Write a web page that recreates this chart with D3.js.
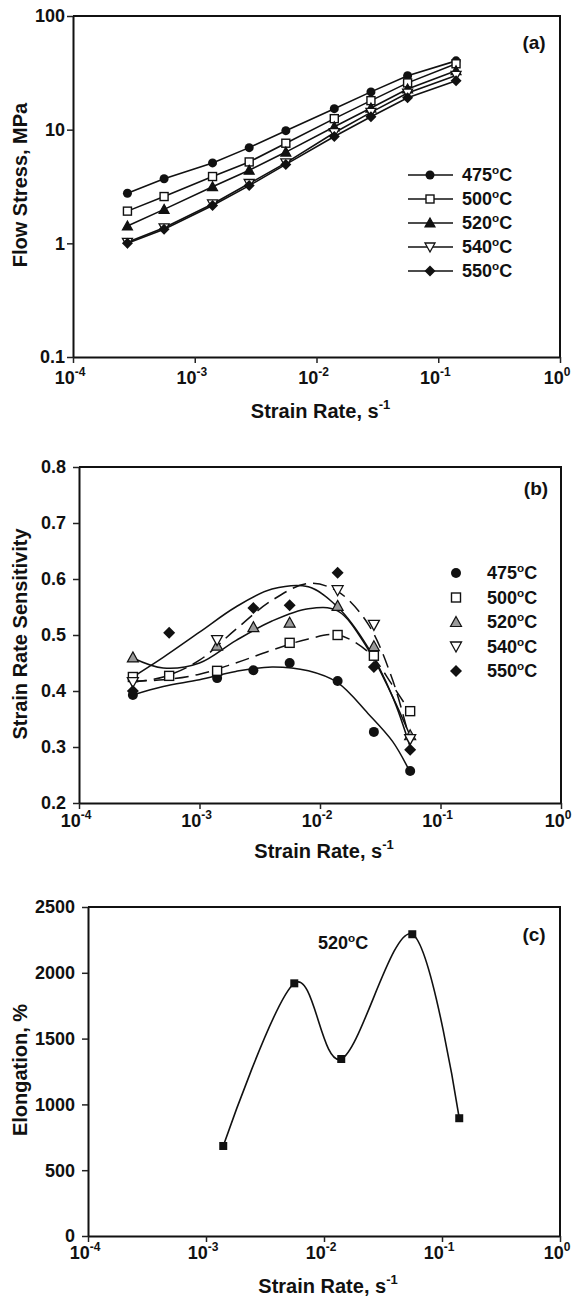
<!DOCTYPE html>
<html><head><meta charset="utf-8">
<script src="https://cdn.jsdelivr.net/npm/d3@7"></script>
<style>
html,body{margin:0;padding:0;background:#fff;}
svg{display:block;}
text{font-family:"Liberation Sans",Arial,sans-serif;font-weight:bold;fill:#111;}
</style></head>
<body>
<svg id="c" width="574" height="1297"></svg>
<script>
// ---------- DATA ----------
// Panel (a): flow stress vs strain rate
const ratesA = [2.8e-4, 5.6e-4, 1.4e-3, 2.8e-3, 5.6e-3, 1.4e-2, 2.8e-2, 5.6e-2, 1.4e-1];
const stress475 = [2.76, 3.7, 5.1, 6.95, 9.8, 15.3, 21.5, 29.8, 40.3];
const stress500 = [1.92, 2.58, 3.87, 5.2, 7.6, 12.5, 18.0, 25.8, 38.0];
const stress520 = [1.42, 1.99, 3.15, 4.4, 6.35, 10.6, 15.5, 22.8, 33.0];
const stress540 = [1.02, 1.37, 2.22, 3.36, 5.1, 9.4, 14.2, 21.0, 30.0];
const stress550 = [1.0, 1.33, 2.15, 3.22, 4.95, 8.7, 13.0, 19.1, 27.0];

// Panel (b): strain rate sensitivity (null = no point shown)
const ratesB = [2.8e-4, 5.6e-4, 1.4e-3, 2.8e-3, 5.6e-3, 1.4e-2, 2.8e-2, 5.6e-2];
const m475 = [0.393, null, 0.423, 0.437, 0.450, 0.418, 0.327, 0.257];
const m500 = [0.425, 0.427, 0.436, null, 0.486, 0.500, 0.463, 0.364];
const m520 = [0.460, null, 0.481, 0.514, 0.522, 0.552, 0.480, 0.321];
const m540 = [0.416, null, 0.491, null, null, 0.580, 0.518, 0.314];
const m550 = [0.400, 0.504, null, 0.548, 0.553, 0.611, 0.443, 0.295];
// trend curves of panel (b)
const fitRates = [2.8e-4, 5e-4, 1e-3, 2e-3, 4e-3, 8e-3, 1.4e-2, 2.5e-2, 4e-2, 5.6e-2];
const fit475 = [0.393, 0.408, 0.420, 0.435, 0.443, 0.436, 0.415, 0.360, 0.310, 0.255];
const fit500 = [0.418, 0.420, 0.430, 0.450, 0.473, 0.493, 0.500, 0.470, 0.410, 0.362];
const fit520 = [0.459, 0.441, 0.450, 0.490, 0.525, 0.547, 0.543, 0.475, 0.390, 0.320];
const fit540 = [0.416, 0.425, 0.455, 0.510, 0.562, 0.592, 0.578, 0.520, 0.420, 0.310];
const fit550 = [0.425, 0.460, 0.505, 0.550, 0.582, 0.586, 0.550, 0.478, 0.390, 0.300];

// Panel (c): elongation at 520°C
const ratesC = [1.4e-3, 5.6e-3, 1.4e-2, 5.6e-2, 1.4e-1];
const elong520 = [684, 1920, 1345, 2293, 895];

// labels
const tempLabels = ["475", "500", "520", "540", "550"];
const xDecades = [1e-4, 1e-3, 1e-2, 1e-1, 1];
const xExps = ["-4", "-3", "-2", "-1", "0"];
const yTicksA = [0.1, 1, 10, 100];
const yLabelsA = ["0.1", "1", "10", "100"];
const yTicksB = [0.2, 0.3, 0.4, 0.5, 0.6, 0.7, 0.8];
const yTicksC = [0, 500, 1000, 1500, 2000, 2500];

// ---------- DRAW ----------
const svg = d3.select("#c");

function marker(g, type, x, y, s, fill) {
  const h = s / 2;
  if (type === "circle") {
    g.append("circle").attr("cx", x).attr("cy", y).attr("r", h).attr("fill", "#111");
  } else if (type === "square") {
    g.append("rect").attr("x", x - h + 0.5).attr("y", y - h + 0.5).attr("width", s - 1).attr("height", s - 1)
      .attr("fill", "#fff").attr("stroke", "#111").attr("stroke-width", 1.4);
  } else if (type === "tri") {
    g.append("path").attr("d", `M${x},${y - h - 0.5}L${x + h + 0.5},${y + h - 0.5}L${x - h - 0.5},${y + h - 0.5}Z`)
      .attr("fill", fill || "#111").attr("stroke", "#111").attr("stroke-width", 1.2);
  } else if (type === "triDown") {
    g.append("path").attr("d", `M${x},${y + h + 0.5}L${x + h + 0.5},${y - h + 0.5}L${x - h - 0.5},${y - h + 0.5}Z`)
      .attr("fill", "#fff").attr("stroke", "#111").attr("stroke-width", 1.3);
  } else if (type === "diamond") {
    g.append("path").attr("d", `M${x},${y - h - 1}L${x + h + 1},${y}L${x},${y + h + 1}L${x - h - 1},${y}Z`).attr("fill", "#111");
  } else if (type === "fsquare") {
    g.append("rect").attr("x", x - h).attr("y", y - h).attr("width", s).attr("height", s).attr("fill", "#111");
  }
}
const mTypes = ["circle", "square", "tri", "triDown", "diamond"];

function logXAxis(x, yPos, labelY, titleY) {
  const g = svg.append("g").attr("transform", `translate(0,${yPos})`);
  const minors = [];
  for (let e = -4; e < 0; e++) for (let k = 2; k <= 9; k++) minors.push(k * Math.pow(10, e));
  g.call(d3.axisBottom(x).tickValues(minors).tickSize(4).tickSizeOuter(0).tickFormat(""));
  g.call(d3.axisBottom(x).tickValues(xDecades).tickSize(6).tickSizeOuter(0).tickFormat(""));
  g.selectAll(".domain").attr("stroke-width", 2).attr("stroke", "#111");
  g.selectAll(".tick line").attr("stroke-width", 1.5).attr("stroke", "#222");
  xDecades.forEach((d, i) => {
    const t = svg.append("text").attr("x", x(d) - 3).attr("y", labelY).attr("text-anchor", "middle").attr("font-size", 18);
    t.append("tspan").text("10");
    t.append("tspan").attr("dy", -8).attr("font-size", 12).text(xExps[i]);
  });
  const tt = svg.append("text").attr("x", (x.range()[0] + x.range()[1]) / 2 + 4).attr("y", titleY)
    .attr("text-anchor", "middle").attr("font-size", 20);
  tt.append("tspan").text("Strain Rate, s");
  tt.append("tspan").attr("dy", -9).attr("font-size", 13).text("-1");
}

function frame(x, y) {
  const [x0, x1] = x.range();
  const [y0, y1] = y.range();
  svg.append("path").attr("d", `M${x0},${y1}H${x1}V${y0}`).attr("fill", "none").attr("stroke", "#111").attr("stroke-width", 2);
}

function yTitle(txt, cx, cy) {
  svg.append("text").attr("transform", `translate(${cx},${cy}) rotate(-90)`).attr("text-anchor", "middle")
    .attr("dy", "0.35em").attr("font-size", 20).text(txt);
}

function tempText(parent, x, y, t, size) {
  const tx = parent.append("text").attr("x", x).attr("y", y).attr("dy", "0.36em").attr("font-size", size);
  tx.append("tspan").text(t);
  tx.append("tspan").attr("dy", -7).attr("font-size", size * 0.65).text("o");
  tx.append("tspan").attr("dy", 7).text("C");
  return tx;
}

// ===== Panel (a) =====
const xA = d3.scaleLog().domain([1e-4, 1]).range([73, 560]);
const yA = d3.scaleLog().domain([0.1, 100]).range([357, 16]);
{
  const gy = svg.append("g").attr("transform", `translate(${xA.range()[0]},0)`);
  const minors = [];
  for (let e = -1; e < 2; e++) for (let k = 2; k <= 9; k++) minors.push(k * Math.pow(10, e));
  gy.call(d3.axisLeft(yA).tickValues(minors).tickSize(4).tickSizeOuter(0).tickFormat(""));
  gy.call(d3.axisLeft(yA).tickValues(yTicksA).tickSize(6).tickSizeOuter(0).tickFormat(""));
  gy.selectAll(".domain").attr("stroke-width", 2).attr("stroke", "#111");
  gy.selectAll(".tick line").attr("stroke-width", 1.5).attr("stroke", "#222");
  yTicksA.forEach((d, i) => svg.append("text").attr("x", xA.range()[0] - 8).attr("y", yA(d)).attr("dy", "0.36em")
    .attr("text-anchor", "end").attr("font-size", 18).text(yLabelsA[i]));
  logXAxis(xA, 357, 384, 418);
  frame(xA, yA);
  yTitle("Flow Stress, MPa", 20, 185);

  const seriesA = [stress475, stress500, stress520, stress540, stress550];
  const line = d3.line().x((d, i) => xA(ratesA[i])).y(d => yA(d));
  const gl = svg.append("g");
  seriesA.forEach(s => gl.append("path").attr("d", line(s)).attr("fill", "none").attr("stroke", "#111").attr("stroke-width", 1.6));
  const gm = svg.append("g");
  seriesA.forEach((s, k) => s.forEach((v, i) => marker(gm, mTypes[k], xA(ratesA[i]), yA(v), 9)));

  svg.append("text").attr("x", 534).attr("y", 42).attr("dy", "0.36em").attr("text-anchor", "middle").attr("font-size", 19).text("(a)");

  const lg = svg.append("g");
  tempLabels.forEach((t, k) => {
    const yy = 175 + k * 24;
    lg.append("line").attr("x1", 408).attr("x2", 453).attr("y1", yy).attr("y2", yy).attr("stroke", "#111").attr("stroke-width", 1.6);
    marker(lg, mTypes[k], 430, yy, 9);
    tempText(lg, 462, yy, t, 18);
  });
}

// ===== Panel (b) =====
const xB = d3.scaleLog().domain([1e-4, 1]).range([79, 561]);
const yB = d3.scaleLinear().domain([0.2, 0.8]).range([803, 467]);
{
  const gy = svg.append("g").attr("transform", `translate(${xB.range()[0]},0)`);
  gy.call(d3.axisLeft(yB).tickValues(yTicksB).tickSize(6).tickSizeOuter(0).tickFormat(""));
  gy.selectAll(".domain").attr("stroke-width", 2).attr("stroke", "#111");
  gy.selectAll(".tick line").attr("stroke-width", 1.5).attr("stroke", "#222");
  yTicksB.forEach(d => svg.append("text").attr("x", xB.range()[0] - 13).attr("y", yB(d)).attr("dy", "0.36em")
    .attr("text-anchor", "end").attr("font-size", 18).text(d3.format(".1f")(d)));
  logXAxis(xB, 803, 827, 858);
  frame(xB, yB);
  yTitle("Strain Rate Sensitivity", 20, 634);

  const fits = [fit475, fit500, fit520, fit540, fit550];
  const dashed = [false, true, false, true, false];
  const cl = d3.line().x((d, i) => xB(fitRates[i])).y(d => yB(d)).curve(d3.curveCatmullRom.alpha(0.5));
  const gl = svg.append("g");
  fits.forEach((f, k) => gl.append("path").attr("d", cl(f)).attr("fill", "none").attr("stroke", "#111")
    .attr("stroke-width", 1.5).attr("stroke-dasharray", dashed[k] ? "14,7" : null));

  const seriesB = [m475, m500, m520, m540, m550];
  const gm = svg.append("g");
  seriesB.forEach((s, k) => s.forEach((v, i) => { if (v !== null) marker(gm, mTypes[k], xB(ratesB[i]), yB(v), 10, "#9a9a9a"); }));

  svg.append("text").attr("x", 536).attr("y", 488).attr("dy", "0.36em").attr("text-anchor", "middle").attr("font-size", 19).text("(b)");
  const lg = svg.append("g");
  tempLabels.forEach((t, k) => {
    const yy = 573 + k * 24.5;
    marker(lg, mTypes[k], 456, yy, 10, "#9a9a9a");
    tempText(lg, 487, yy, t, 18);
  });
}

// ===== Panel (c) =====
const xC = d3.scaleLog().domain([1e-4, 1]).range([88, 560]);
const yC = d3.scaleLinear().domain([0, 2500]).range([1236, 907]);
{
  const gy = svg.append("g").attr("transform", `translate(${xC.range()[0]},0)`);
  gy.call(d3.axisLeft(yC).tickValues(d3.range(0, 2501, 100)).tickSize(4).tickSizeOuter(0).tickFormat(""));
  gy.call(d3.axisLeft(yC).tickValues(yTicksC).tickSize(6).tickSizeOuter(0).tickFormat(""));
  gy.selectAll(".domain").attr("stroke-width", 2).attr("stroke", "#111");
  gy.selectAll(".tick line").attr("stroke-width", 1.5).attr("stroke", "#222");
  yTicksC.forEach(d => svg.append("text").attr("x", xC.range()[0] - 13).attr("y", yC(d)).attr("dy", "0.36em")
    .attr("text-anchor", "end").attr("font-size", 18).text(d));
  logXAxis(xC, 1236, 1259, 1293);
  frame(xC, yC);
  yTitle("Elongation, %", 20, 1070);

  const cl = d3.line().x((d, i) => xC(ratesC[i])).y(d => yC(d)).curve(d3.curveCardinal.tension(0));
  svg.append("path").attr("d", cl(elong520)).attr("fill", "none").attr("stroke", "#111").attr("stroke-width", 1.6);
  const gm = svg.append("g");
  elong520.forEach((v, i) => marker(gm, "fsquare", xC(ratesC[i]), yC(v), 8));

  svg.append("text").attr("x", 534).attr("y", 934).attr("dy", "0.36em").attr("text-anchor", "middle").attr("font-size", 19).text("(c)");
  tempText(svg, 318, 943, "520", 18);
}
</script>
</body></html>
